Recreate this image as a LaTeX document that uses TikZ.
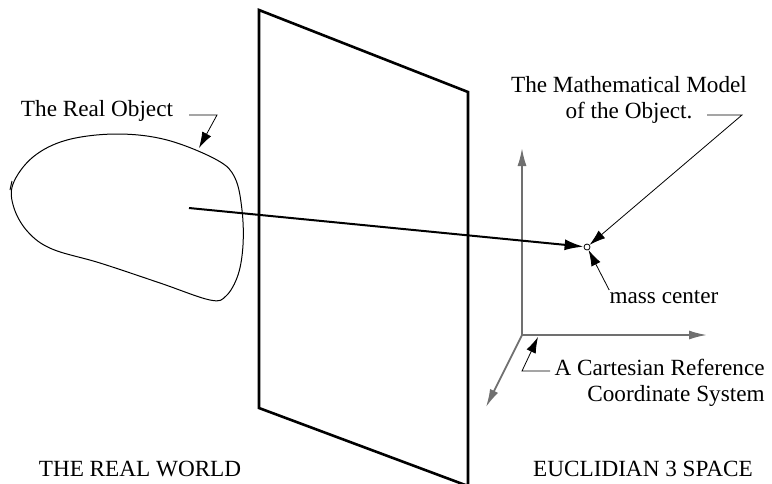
\documentclass[tikz,border=0pt]{standalone}
\usepackage{fontspec}
\setmainfont{Liberation Serif}
\usetikzlibrary{arrows.meta,positioning}
\definecolor{axgrey}{HTML}{707070}
\tikzset{
  lbl/.style={font=\fontsize{11.6}{13}\selectfont,inner sep=0pt},
  plane/.style={line width=1.3pt,line join=miter},
  blob/.style={line width=0.5pt},
  mainarr/.style={-{Latex[length=9.5pt,width=5.5pt]},line width=1pt},
  leader/.style={-{Latex[length=8pt,width=5pt]},line width=0.4pt},
  axis/.style={-{Latex[length=9pt,width=4.5pt]},line width=0.9pt,axgrey},
}
\begin{document}
\begin{tikzpicture}[x=0.5pt,y=-0.5pt]
  \useasboundingbox (0,0) rectangle (772,483);
  % the plane between the two worlds
  \draw[plane] (259,10) -- (468,92) -- (468,486) -- (259,408) -- cycle;
  % the real object
  \draw[blob] plot[smooth cycle,tension=0.6] coordinates {(13,184) (33,157) (67,140)
    (117,134) (167,140) (217,160) (235,178) (242,210) (243,245) (238,275)
    (226,296) (210,300) (160,283) (100,263) (52,249) (28,232) (14,208)};
  \draw[blob] (10,190) -- (12,181);
  \node[lbl] (realobj) at (97,111) {The Real Object};
  \coordinate (roa) at (189,115);
  \coordinate (rok) at (217,115);
  \coordinate (rotip) at (199,148);
  \draw[leader] (roa) -- (rok) -- (rotip);
  % reference frame
  \coordinate (O) at (522,335);
  \coordinate (zax) at (522,148);
  \coordinate (xax) at (707,335);
  \coordinate (yax) at (486,407);
  \draw[axis] (O) -- (zax);
  \draw[axis] (O) -- (xax);
  \draw[axis] (O) -- (yax);
  \node[circle,draw,line width=0.4pt,fill=white,inner sep=0pt,minimum size=3pt] (mc) at (587,247) {};
  \coordinate (objc) at (189,208);
  \draw[mainarr] (objc) -- (mc);
  \node[lbl,align=center] (mathmodel) at (629,100) {The Mathematical Model\\of the Object.};
  \coordinate (mma) at (707,115);
  \coordinate (mmk) at (742,115);
  \draw[leader] (mma) -- (mmk) -- (mc);
  \node[lbl] (masslbl) at (664,297) {mass center};
  \draw[leader] (masslbl.north west) -- (mc);
  \node[lbl,align=right,anchor=east] (cartlbl) at (765,383) {A Cartesian Reference\\Coordinate System};
  \coordinate (csa) at (550,371);
  \coordinate (csk) at (522,371);
  \coordinate (cstip) at (538,337);
  \draw[leader] (csa) -- (csk) -- (cstip);
  % captions
  \node[lbl] (realworld) at (140,469) {THE REAL WORLD};
  \node[lbl] (euclid) at (643,469) {EUCLIDIAN 3 SPACE};
\end{tikzpicture}
\end{document}
